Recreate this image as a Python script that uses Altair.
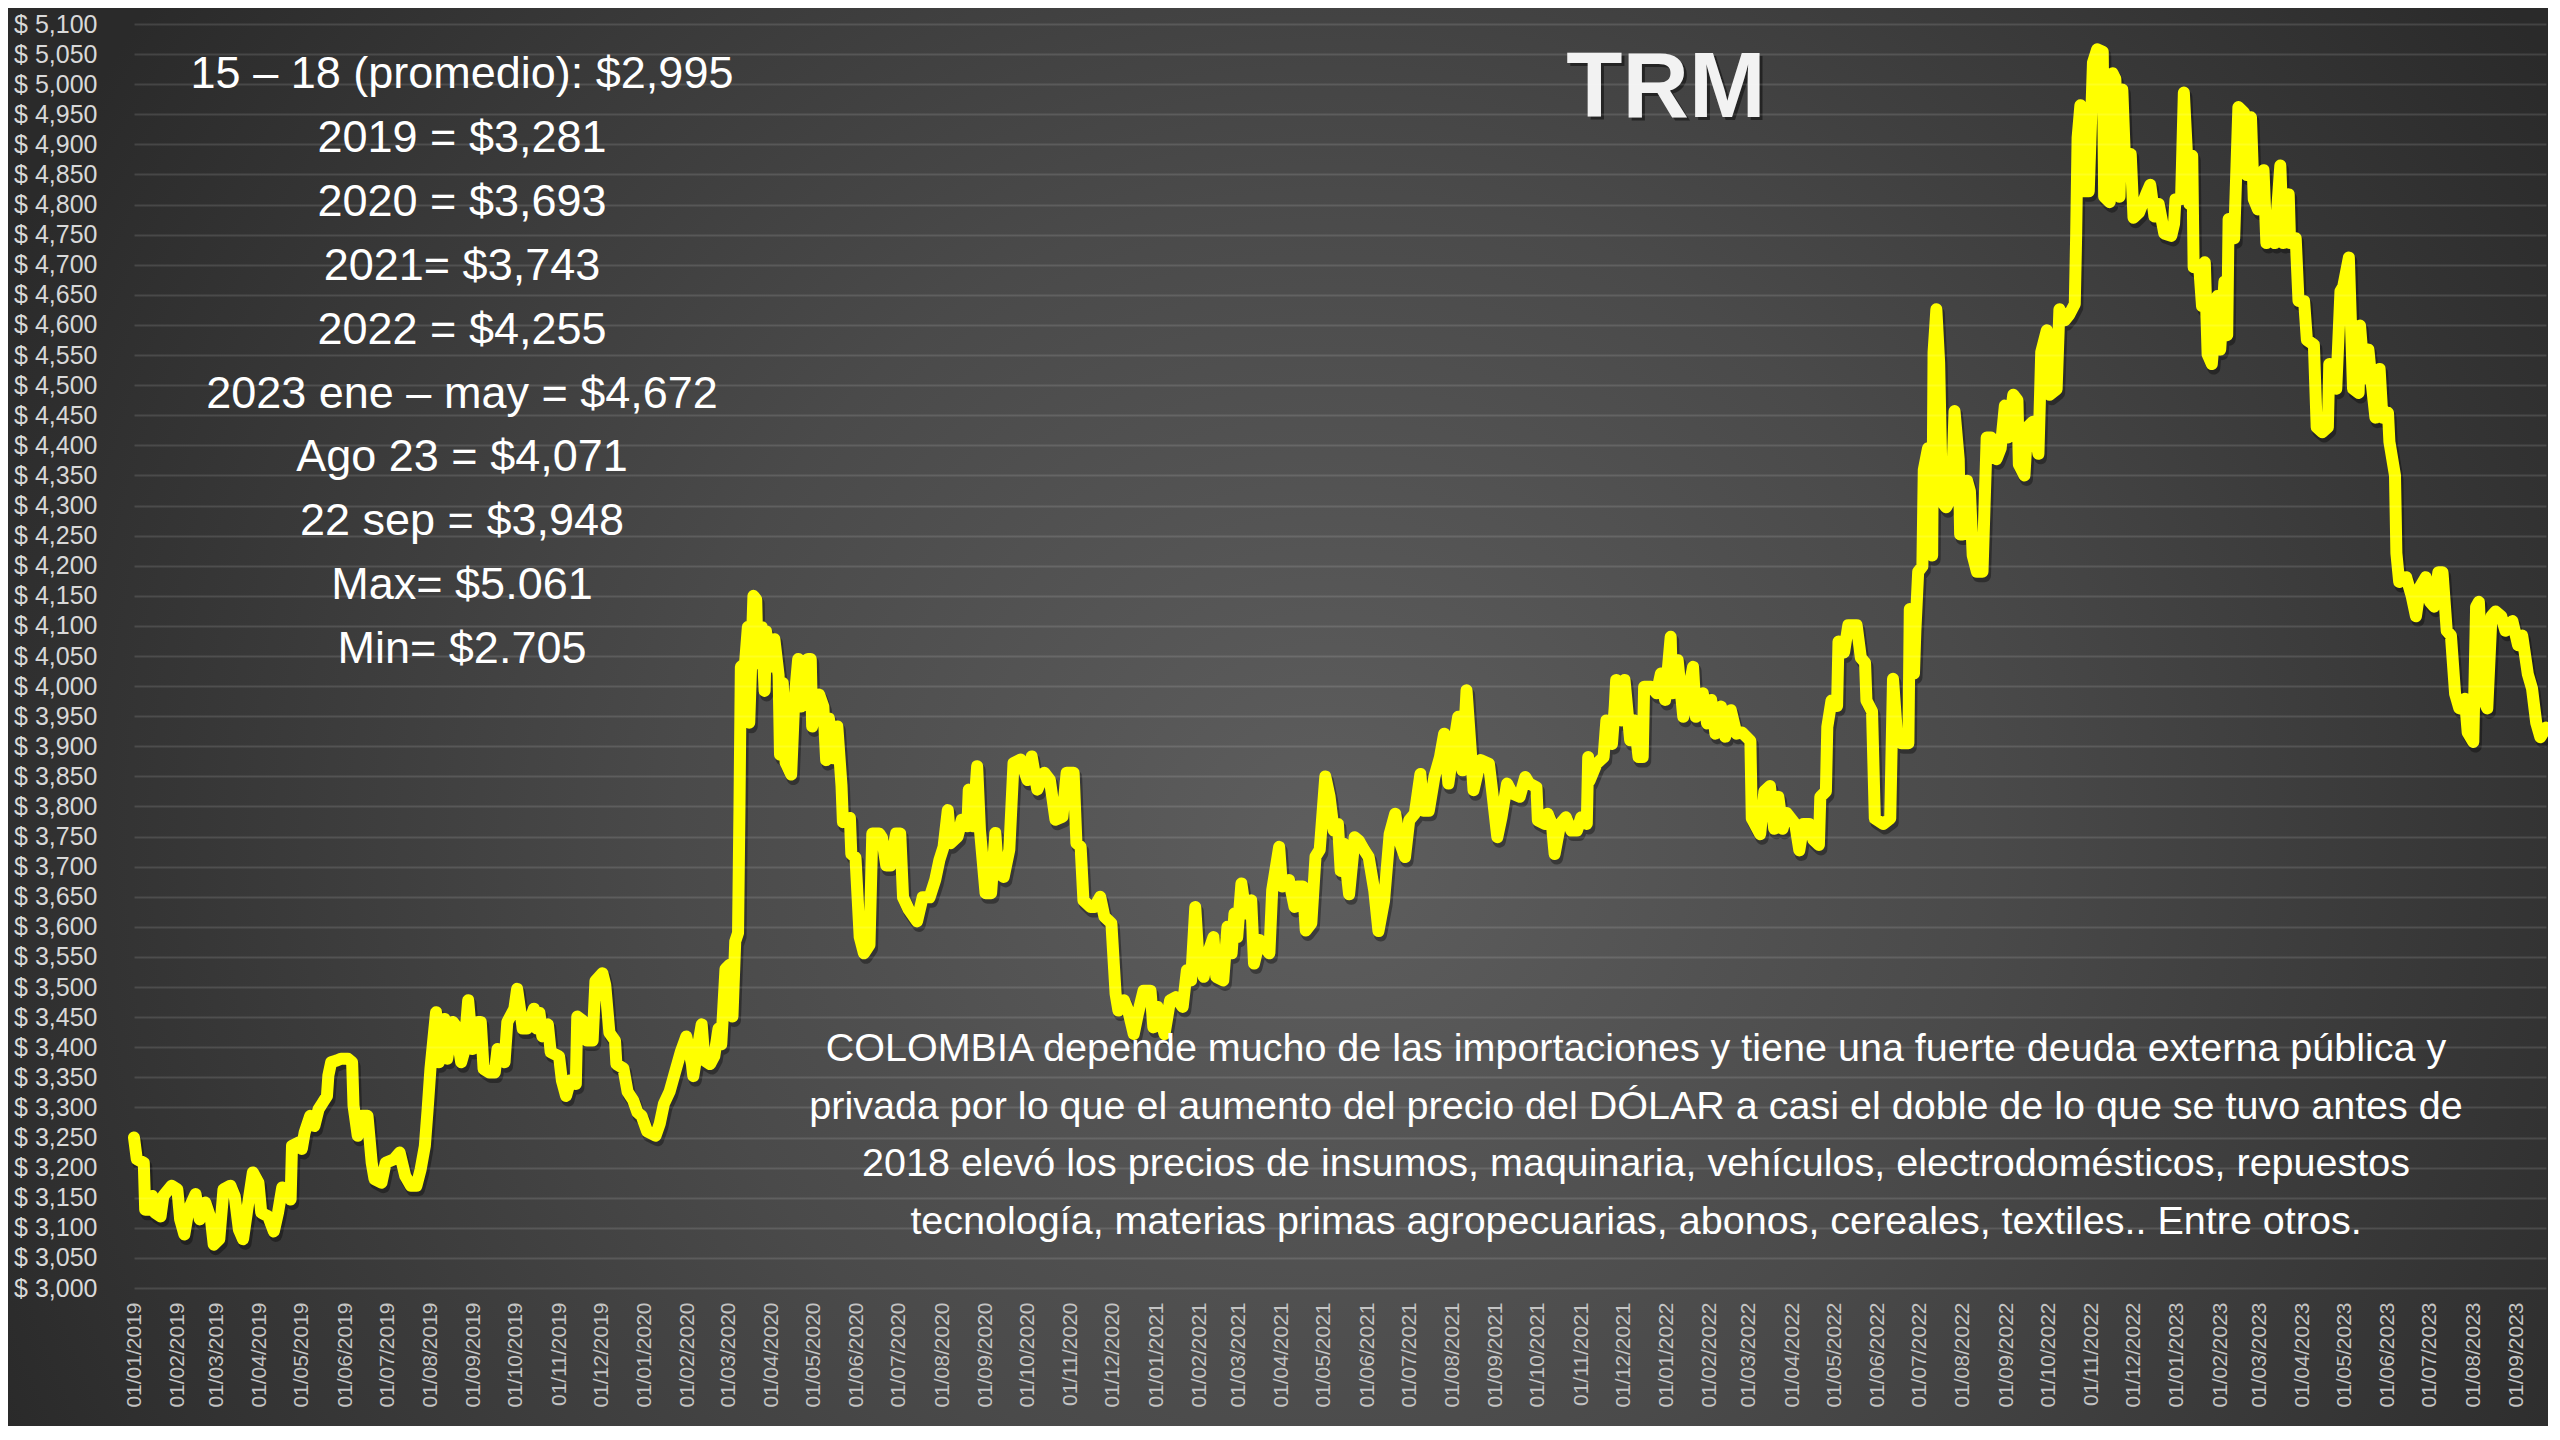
import altair as alt
import pandas as pd

# ---------------- data ----------------
# days elapsed since 2019-01-01 and the TRM (COP per USD) at that day
DAYS = [
    0, 2, 7, 8, 11, 13, 15, 19, 21, 27, 31, 33, 36, 39, 44, 47, 51, 55, 57, 61,
    64, 69, 72, 75, 78, 81, 85, 89, 91, 96, 100, 103, 106, 112, 113, 118, 120, 122, 126, 129,
    132, 135, 138, 139, 141, 145, 148, 153, 156, 157, 160, 163, 167, 170, 172, 177, 180, 186, 190, 194,
    198, 202, 205, 208, 210, 212, 216, 218, 222, 224, 228, 230, 234, 236, 239, 242, 246, 248, 250, 254,
    258, 260, 265, 267, 272, 274, 278, 281, 286, 288,
    290, 292, 296, 298, 304, 306, 309, 312, 316, 317, 321, 324, 328, 330, 335, 337, 340, 344, 345, 350,
    353, 357, 360, 363, 367, 373, 376, 379, 383, 387, 391, 395, 399, 400, 404, 406, 408, 412, 415, 418,
    420, 423, 426, 428, 430, 432, 433, 434, 437, 439, 440, 443, 445, 446, 449, 451, 452, 455, 458, 461,
    462, 464, 466, 470, 472, 475, 477, 480, 482, 484, 485, 490, 493, 495, 497, 500, 503, 506, 507, 512,
    513, 516, 519, 522, 526, 528, 533, 535, 538, 541, 545, 548, 550, 554, 560, 564, 569,
    573, 576, 579, 582, 584, 589, 592, 596, 597, 600, 603, 605, 609, 613, 616, 618, 622, 626, 629, 634,
    639, 642, 646, 651, 655, 659, 664, 667, 672, 674, 677, 679, 684, 687, 691, 694, 699, 702, 704, 708,
    711, 715, 718, 722, 727, 729, 732, 737, 741, 745, 750, 753, 756, 759, 761, 765, 768, 772, 774, 779,
    782, 785, 787, 789, 792, 795, 799, 801, 805, 812, 814, 819, 821, 826, 830, 832, 836, 838, 842, 845,
    848, 852, 855, 858,
    861, 863, 865, 869, 873, 876, 880, 883, 887, 890, 894, 898, 902, 905, 909, 912, 916, 920, 922, 926,
    930, 934, 937, 940, 944, 947, 950, 953, 956, 958, 963, 969, 971, 975, 978, 982, 986, 991, 995, 998,
    1003, 1004, 1009, 1011, 1014, 1016, 1020, 1024, 1028, 1032, 1035, 1039, 1040, 1041, 1046, 1051, 1053, 1057, 1059, 1060,
    1064, 1066, 1070, 1073, 1076, 1079, 1080, 1085, 1089, 1092, 1095, 1099, 1100, 1104, 1108, 1111, 1115, 1117, 1122, 1125,
    1128, 1131, 1135, 1138, 1142, 1146,
    1150, 1156, 1157, 1163, 1166, 1170, 1173, 1176, 1179, 1182, 1188, 1191, 1194, 1198, 1201, 1205, 1206, 1210, 1211, 1214,
    1218, 1219, 1223, 1226, 1232, 1235, 1238, 1239, 1243, 1245, 1251, 1256, 1258, 1261, 1264, 1269, 1270, 1273, 1274, 1276,
    1279, 1280, 1283, 1286, 1287, 1289, 1291, 1293, 1296, 1300, 1302, 1305, 1306, 1308, 1311, 1313, 1315, 1318, 1322, 1325,
    1328, 1332, 1335, 1338, 1340, 1344, 1347, 1348, 1352, 1354, 1358, 1362, 1364, 1368, 1370, 1375, 1377, 1381, 1384, 1388,
    1389, 1390, 1392, 1395, 1398, 1401, 1404, 1408, 1409, 1413, 1415, 1417, 1420, 1422, 1424, 1428, 1430, 1434,
    1439, 1442, 1445, 1448, 1452, 1457, 1459, 1460, 1464, 1466, 1470, 1472, 1473, 1477, 1479, 1481, 1483, 1486, 1490, 1492,
    1495, 1497, 1498, 1502, 1503, 1505, 1509, 1511, 1514, 1516, 1519, 1523, 1525, 1529, 1531, 1535, 1537, 1541, 1542, 1546,
    1548, 1552, 1554, 1559, 1561, 1565, 1569, 1570, 1575, 1578, 1580, 1584, 1587, 1591, 1592, 1595, 1598, 1600, 1603, 1606,
    1608, 1612, 1613, 1617, 1618, 1620, 1625, 1629, 1632, 1635, 1639, 1642, 1645, 1648, 1651, 1654, 1657, 1660, 1663, 1667,
    1669, 1673, 1675, 1677, 1680, 1683, 1686, 1689, 1693, 1696, 1701, 1705, 1708, 1712, 1715, 1718, 1721, 1725,
]
TRM = [
    3250, 3214, 3208, 3130, 3130, 3153, 3125, 3119, 3153, 3170, 3164, 3114, 3089, 3130, 3156, 3114, 3142, 3114, 3072, 3081,
    3164, 3170, 3153, 3097, 3081, 3130, 3192, 3175, 3125, 3119, 3094, 3125, 3167, 3147, 3236, 3242, 3231, 3258, 3286, 3269,
    3297, 3308, 3319, 3353, 3375, 3378, 3381, 3381, 3375, 3303, 3253, 3286, 3286, 3208, 3181, 3175, 3208, 3214, 3225, 3186,
    3170, 3170, 3197, 3236, 3297, 3364, 3458, 3375, 3447, 3381, 3442, 3436, 3375, 3392, 3478, 3397, 3442, 3442, 3364, 3358,
    3358, 3397, 3375, 3442, 3464, 3497, 3431, 3431, 3464, 3431,
    3457, 3418, 3438, 3392, 3385, 3345, 3319, 3345, 3339, 3451, 3444, 3411, 3411, 3510, 3523, 3504, 3424, 3411, 3372, 3365,
    3326, 3312, 3292, 3286, 3260, 3253, 3273, 3306, 3326, 3359, 3392, 3418, 3372, 3352, 3411, 3438, 3378, 3372, 3385, 3431,
    3405, 3530, 3537, 3451, 3576, 3590, 3794, 4032, 4038, 4098, 3939, 4150, 4144, 4038, 4098, 3992, 4091, 4032, 4078, 4018,
    3886, 4005, 3873, 3853, 3966, 4045, 3966, 3979, 4045, 4045, 3933, 3986, 3966, 3877, 3946, 3880, 3933, 3834, 3774, 3781,
    3721, 3715, 3583, 3556, 3570, 3755, 3755, 3748, 3702, 3702, 3755, 3755, 3649, 3629, 3609, 3649, 3649,
    3678, 3711, 3733, 3794, 3739, 3750, 3778, 3767, 3828, 3767, 3867, 3761, 3656, 3656, 3756, 3689, 3683, 3728, 3872, 3878,
    3844, 3883, 3828, 3856, 3844, 3778, 3783, 3856, 3856, 3739, 3733, 3644, 3633, 3633, 3650, 3617, 3606, 3489, 3461, 3478,
    3461, 3422, 3456, 3494, 3494, 3433, 3467, 3422, 3478, 3483, 3467, 3528, 3511, 3633, 3556, 3517, 3556, 3583, 3517, 3511,
    3600, 3556, 3622, 3583, 3672, 3622, 3644, 3539, 3578, 3556, 3661, 3733, 3667, 3678, 3633, 3667, 3667, 3594, 3606, 3717,
    3728, 3850, 3817, 3760,
    3771, 3693, 3738, 3654, 3749, 3743, 3727, 3716, 3660, 3593, 3643, 3754, 3788, 3743, 3716, 3777, 3788, 3854, 3793, 3793,
    3849, 3882, 3921, 3838, 3904, 3949, 3860, 3993, 3893, 3827, 3877, 3871, 3832, 3749, 3782, 3838, 3821, 3816, 3849, 3838,
    3832, 3777, 3771, 3788, 3771, 3721, 3771, 3782, 3760, 3760, 3782, 3771, 3882, 3843, 3871, 3882, 3943, 3904, 3966, 4010,
    3943, 4010, 3910, 3943, 3882, 3882, 3999, 3999, 3988, 4021, 3977, 4082, 3988, 4043, 3949, 3982, 4032, 3949, 3988, 3938,
    3977, 3921, 3966, 3916, 3960, 3921,
    3923, 3909, 3780, 3754, 3825, 3834, 3763, 3816, 3763, 3789, 3771, 3727, 3771, 3771, 3745, 3736, 3816, 3825, 3932, 3976,
    3967, 4074, 4056, 4101, 4101, 4047, 4039, 3976, 3958, 3780, 3771, 3780, 4012, 3914, 3905, 3905, 4128, 4021, 4092, 4190,
    4199, 4359, 4395, 4217, 4555, 4626, 4537, 4306, 4297, 4315, 4457, 4377, 4252, 4252, 4341, 4324, 4217, 4190, 4190, 4413,
    4413, 4377, 4395, 4466, 4413, 4484, 4475, 4368, 4350, 4430, 4439, 4386, 4555, 4591, 4484, 4493, 4626, 4608, 4617, 4635,
    4751, 4911, 4965, 4822, 4822, 5036, 5058, 5054, 4813, 4804, 5018, 5009, 4813, 4991, 4867, 4884, 4778, 4787,
    4817, 4833, 4780, 4801, 4752, 4748, 4768, 4809, 4809, 4986, 4801, 4881, 4696, 4696, 4631, 4704, 4551, 4535, 4648, 4559,
    4672, 4583, 4776, 4744, 4817, 4962, 4953, 4849, 4945, 4809, 4792, 4857, 4736, 4768, 4736, 4865, 4736, 4817, 4736, 4744,
    4640, 4640, 4575, 4567, 4430, 4422, 4430, 4535, 4494, 4656, 4664, 4712, 4494, 4487, 4599, 4511, 4559, 4511, 4446, 4527,
    4446, 4454, 4406, 4350, 4221, 4173, 4181, 4149, 4116, 4165, 4181, 4140, 4132, 4189, 4189, 4092, 4084, 3987, 3963, 3979,
    3923, 3907, 4132, 4140, 3979, 3963, 4116, 4124, 4116, 4092, 4108, 4068, 4084, 4020, 3996, 3939, 3915, 3931,
]

Y_TICKS = list(range(3000, 5101, 50))
X_LABEL_FORMAT = "%d/%m/%Y"

STATS_LINES = [
    "15 – 18 (promedio): $2,995",
    "2019 = $3,281",
    "2020 = $3,693",
    "2021= $3,743",
    "2022 = $4,255",
    "2023 ene – may = $4,672",
    "Ago 23 = $4,071",
    "22 sep = $3,948",
    "Max= $5.061",
    "Min= $2.705",
]
TITLE = "TRM"
NOTE_LINES = [
    "COLOMBIA depende mucho de las importaciones y tiene una fuerte deuda externa pública  y",
    "privada por lo que el aumento del precio del DÓLAR a casi el doble de lo que se tuvo antes de",
    "2018 elevó los precios de insumos, maquinaria, vehículos, electrodomésticos, repuestos",
    "tecnología, materias primas agropecuarias, abonos, cereales, textiles.. Entre otros.",
]

# ---------------- layout ----------------
FONT = "Liberation Sans Narrow, Arial Narrow, Liberation Sans, Arial, sans-serif"
TOTAL_W, TOTAL_H = 2540, 1418
PAD_L, PAD_T, PAD_R, PAD_B = 126, 16, 2, 138
W = TOTAL_W - PAD_L - PAD_R
H = TOTAL_H - PAD_T - PAD_B

dates = (pd.Timestamp("2019-01-01") + pd.to_timedelta(DAYS, unit="D")).strftime("%Y-%m-%d")
df = pd.DataFrame({"fecha": list(dates), "trm": TRM})
one = pd.DataFrame({"k": [0]})

x_enc = alt.X(
    "fecha:T",
    scale=alt.Scale(
        type="utc",
        domain=[
            alt.DateTime(year=2019, month=1, date=1, utc=True),
            alt.DateTime(year=2023, month=9, date=22, utc=True),
        ],
    ),
    axis=alt.Axis(
        title=None,
        labelExpr=f"utcFormat(datum.value, '{X_LABEL_FORMAT}')",
        tickCount={"interval": "month", "step": 1},
        labelAngle=270,
        labelFont=FONT,
        labelFontSize=21,
        labelColor="#c4c4c4",
        labelPadding=14,
        ticks=False,
        domain=False,
        grid=False,
        labelFlush=False,
        labelOverlap=False,
        labelBound=False,
        zindex=1,
    ),
)
y_enc = alt.Y(
    "trm:Q",
    scale=alt.Scale(domain=[3000, 5100], nice=False, zero=False),
    axis=alt.Axis(
        title=None,
        values=Y_TICKS,
        labelExpr="'$ ' + format(datum.value, ',')",
        labelFont=FONT,
        labelFontSize=25,
        labelColor="#d9d9d9",
        labelPadding=37,
        ticks=False,
        domain=False,
        grid=True,
        gridColor="#ffffff",
        gridOpacity=0.12,
        gridWidth=2,
        zindex=1,
        labelOverlap=False,
    ),
)

bg = alt.Chart(one).mark_rect(
    fill=alt.RadialGradient(
        gradient="radial",
        stops=[
            alt.GradientStop(color="#5e5e5e", offset=0),
            alt.GradientStop(color="#4a4a4a", offset=0.45),
            alt.GradientStop(color="#2a2a2a", offset=1),
        ],
        x1=0.52, y1=0.55, x2=0.52, y2=0.55, r1=0, r2=0.57,
    ),
    strokeWidth=0,
).encode(
    x=alt.value(-PAD_L), x2=alt.value(TOTAL_W - PAD_L),
    y=alt.value(-PAD_T), y2=alt.value(TOTAL_H - PAD_T),
)

base = alt.Chart(df).encode(x=x_enc, y=y_enc)
shadow = base.mark_line(
    color="#000000", opacity=0.35, strokeWidth=13, xOffset=2, yOffset=4,
    strokeJoin="round", strokeCap="round",
)
line = base.mark_line(color="#ffff00", strokeWidth=12, strokeJoin="round", strokeCap="round")

stats = alt.Chart(one).mark_text(
    text=STATS_LINES, font=FONT, fontSize=45, lineHeight=63.9,
    align="center", baseline="alphabetic", color="#ffffff",
).encode(x=alt.value(328), y=alt.value(64))

title_shadow = alt.Chart(one).mark_text(
    text=TITLE, font=FONT, fontSize=92, fontWeight="bold",
    align="center", baseline="alphabetic", color="#000000", opacity=0.45,
).encode(x=alt.value(1535), y=alt.value(96))
title = alt.Chart(one).mark_text(
    text=TITLE, font=FONT, fontSize=92, fontWeight="bold",
    align="center", baseline="alphabetic", color="#f2f2f2",
).encode(x=alt.value(1532), y=alt.value(93))

note = alt.Chart(one).mark_text(
    text=NOTE_LINES, font=FONT, fontSize=39.5, lineHeight=57.7,
    align="center", baseline="alphabetic", color="#ffffff",
).encode(x=alt.value(1502), y=alt.value(1037))

chart = alt.layer(bg, shadow, line, stats, title_shadow, title, note).properties(
    width=W,
    height=H,
    padding={"left": PAD_L, "top": PAD_T, "right": PAD_R, "bottom": PAD_B},
    autosize=alt.AutoSizeParams(type="none"),
    background="#2a2a2a",
).configure_view(stroke=None)

chart.save("out.html", embed_options={"renderer": "svg", "actions": False})
